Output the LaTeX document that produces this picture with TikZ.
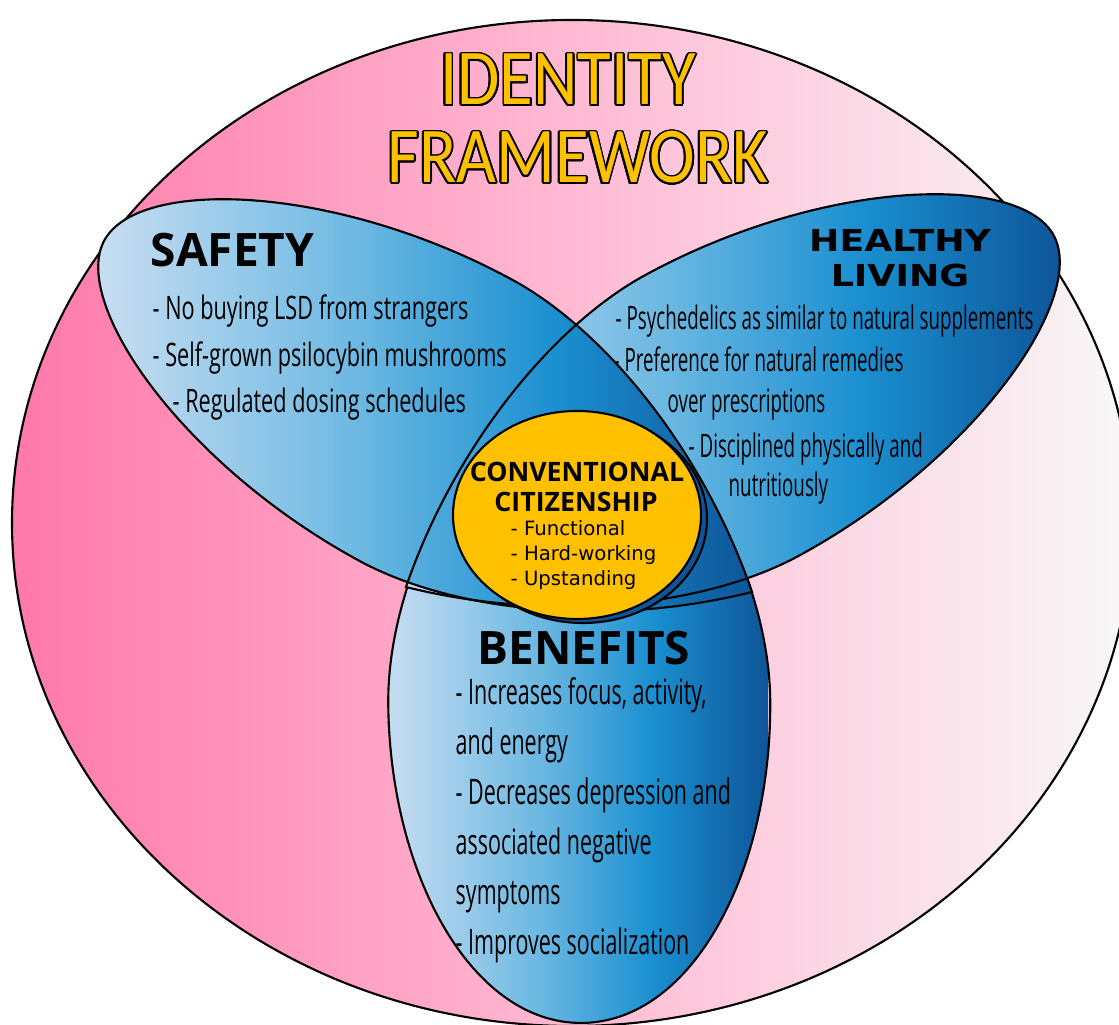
\documentclass[tikz,border=0pt]{standalone}
\usepackage{fontspec}
\usepackage{xcolor}
\usepackage{tikz}
\usepackage{contour}
\setmainfont{Open Sans}
\newfontfamily\titlefont[FakeStretch=0.87]{Carlito}
\newfontfamily\condfont[FakeStretch=0.67]{Open Sans}
\newfontfamily\benefitfont[FakeStretch=0.61]{Open Sans}
\newfontfamily\healthfont[FakeStretch=0.58]{Open Sans}
\newfontfamily\widefont[FakeStretch=1.2]{DejaVu Sans}
\newfontfamily\listfont{DejaVu Sans}
\definecolor{pinkL}{HTML}{FF78AA}
\definecolor{pinkM}{HTML}{FFBAD3}
\definecolor{pinkR}{HTML}{F8F8F8}
\definecolor{blueL}{HTML}{C9DEF2}
\definecolor{blueA}{HTML}{6CB8E2}
\definecolor{blueM}{HTML}{1A8FD0}
\definecolor{blueD}{HTML}{0D5598}
\definecolor{gold}{HTML}{FFC000}
\pgfdeclarehorizontalshading{bgfade}{100bp}{color(0bp)=(pinkL); color(25bp)=(pinkL); color(50bp)=(pinkM); color(75bp)=(pinkR); color(100bp)=(pinkR)}
\pgfdeclarehorizontalshading{petalfade}{100bp}{color(0bp)=(blueL); color(25bp)=(blueL); color(45bp)=(blueA); color(60bp)=(blueM); color(75bp)=(blueD); color(100bp)=(blueD)}
\contourlength{0.5pt}

% teardrop: tip at origin, round end at (#1,0), half width #2 at #3,
% end bulge #4, tip bulge #5
\newcommand{\petal}[5]{(0,0) .. controls ({0.3*#3},{#5*#2}) and ({0.7*#3},#2) .. (#3,#2)
  .. controls ({#3+0.53*(#1-#3)},#2) and (#1,{#4*#2}) .. (#1,0)
  .. controls (#1,{-#4*#2}) and ({#3+0.53*(#1-#3)},-#2) .. (#3,-#2)
  .. controls ({0.7*#3},-#2) and ({0.3*#3},{-#5*#2}) .. cycle}
\newcommand{\sidepetal}{\petal{737}{160}{360}{0.45}{0.62}}
\newcommand{\lowpetal}{\petal{691}{191}{370}{0.58}{0.66}}

\tikzset{
  edge/.style={draw=black, line width=0.6pt},
  safetyplace/.style={shift={(752,433)}, rotate=151.5},
  healthplace/.style={shift={(406,438)}, rotate=28.5},
  benefitplace/.style={shift={(576,693)}, rotate=-89.5},
  titletext/.style={inner sep=0pt, text=gold, font=\titlefont\fontsize{22.5}{26}\selectfont},
  headtext/.style={inner sep=0pt, font=\bfseries\fontsize{13.1}{15}\selectfont},
  widehead/.style={inner sep=0pt, font=\widefont\bfseries\fontsize{8.6}{10}\selectfont},
  bodytext/.style={inner sep=0pt, anchor=base west, font=\condfont\fontsize{9.2}{11}\selectfont},
  healthbody/.style={bodytext, font=\healthfont\fontsize{9.2}{11}\selectfont},
  bigbody/.style={bodytext, font=\benefitfont\fontsize{10}{12}\selectfont},
  corehead/.style={inner sep=0pt, font=\bfseries\fontsize{7.6}{9}\selectfont},
  corelist/.style={inner sep=0pt, anchor=base west, font=\listfont\fontsize{5.6}{7}\selectfont}
}

\begin{document}
\begin{tikzpicture}[x=0.01cm, y=0.01cm]
  \useasboundingbox (0,0) rectangle (1119,1025);
  \clip (0,0) rectangle (1119,1025);

  % outer frame
  \shade[shading=bgfade] (572,502) ellipse [x radius=560, y radius=503];
  \draw[edge] (572,502) ellipse [x radius=560, y radius=503];

  % petal fills
  \begin{scope}
    \clip[benefitplace] \lowpetal;
    \shade[shading=petalfade] (386,0) rectangle (768,695);
  \end{scope}
  \begin{scope}
    \clip[healthplace] \sidepetal;
    \shade[shading=petalfade] (401,400) rectangle (1061,835);
  \end{scope}
  \begin{scope}
    \clip[safetyplace] \sidepetal;
    \shade[shading=petalfade] (95,400) rectangle (755,830);
  \end{scope}

  % petal outlines (lower one only where it is not covered)
  \begin{scope}[even odd rule]
    \clip[safetyplace] (-3000,-3000) rectangle (3000,3000) \sidepetal;
    \begin{scope}[even odd rule]
      \clip[healthplace] (-3000,-3000) rectangle (3000,3000) \sidepetal;
      \draw[edge, benefitplace] \lowpetal;
    \end{scope}
  \end{scope}
  \draw[edge, healthplace] \sidepetal;
  \draw[edge, safetyplace] \sidepetal;

  % core
  \draw[edge, fill=blueD] (583,506) ellipse [x radius=124, y radius=104];
  \draw[edge, fill=gold] (577,510) ellipse [x radius=124, y radius=104];

  % title
  \node[titletext, anchor=base] (title1) at (568,920) {\contour{black}{IDENTITY}};
  \node[titletext, anchor=base] (title2) at (578,842) {\contour{black}{FRAMEWORK}};

  % safety
  \node[headtext, anchor=base west] (safetyhead) at (150,758) {SAFETY};
  \foreach \x/\y/\txt [count=\i] in {152/705/{- No buying LSD from strangers},
                                     152/658/{- Self-grown psilocybin mushrooms},
                                     172/612/{- Regulated dosing schedules}} {
    \node[bodytext] (safety\i) at (\x,\y) {\txt};
  }

  % healthy living
  \node[widehead, anchor=base] (healthhead1) at (900,773) {HEALTHY};
  \node[widehead, anchor=base] (healthhead2) at (900,738) {LIVING};
  \foreach \x/\y/\txt [count=\i] in {615/695/{- Psychedelics as similar to natural supplements},
                                     613/653/{- Preference for natural remedies},
                                     667/612/{over prescriptions},
                                     688/567/{- Disciplined physically and},
                                     728/528/{nutritiously}} {
    \node[healthbody] (health\i) at (\x,\y) {\txt};
  }

  % conventional citizenship
  \node[corehead, anchor=base] (corehead1) at (577,543) {CONVENTIONAL};
  \node[corehead, anchor=base] (corehead2) at (576,513) {CITIZENSHIP};
  \foreach \y/\txt [count=\i] in {489/{- Functional}, 464/{- Hard-working}, 439/{- Upstanding}} {
    \node[corelist] (core\i) at (510,\y) {\txt};
  }

  % benefits
  \node[headtext, anchor=base west] (benefitshead) at (477,360) {BENEFITS};
  \foreach \y/\txt [count=\i] in {320/{- Increases focus, activity,}, 270/{and energy},
                                  220/{- Decreases depression and}, 170/{associated negative},
                                  120/{symptoms}, 70/{- Improves socialization}} {
    \node[bigbody] (benefits\i) at (455,\y) {\txt};
  }
\end{tikzpicture}
\end{document}
